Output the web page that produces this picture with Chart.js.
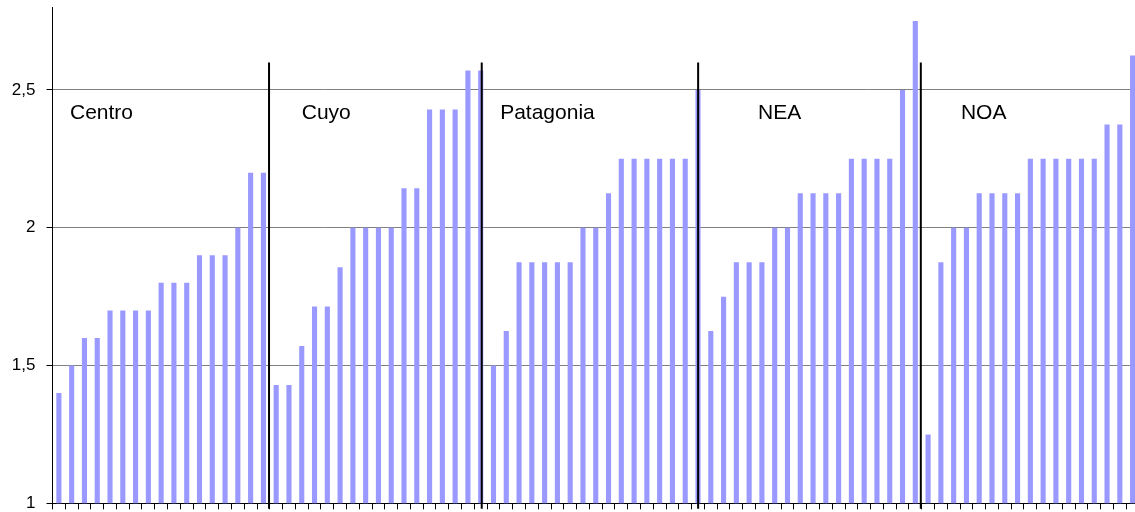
<!DOCTYPE html>
<html>
<head>
<meta charset="utf-8">
<script src="https://cdn.jsdelivr.net/npm/chart.js@4/dist/chart.umd.min.js"></script>
<style>
  html, body { margin: 0; padding: 0; background: #fff; overflow: hidden; width: 1135px; height: 512px; }
  #wrap { position: absolute; left: 0; top: 0; width: 1139px; height: 512px; }
</style>
</head>
<body>
<div id="wrap"><canvas id="c" width="1139" height="512" style="width:1139px;height:512px"></canvas></div>
<script>
// ---- data ----
const regions = ['Centro', 'Cuyo', 'Patagonia', 'NEA', 'NOA'];
const centro    = [1.4, 1.5, 1.6, 1.6, 1.7, 1.7, 1.7, 1.7, 1.8, 1.8, 1.8, 1.9, 1.9, 1.9, 2.0, 2.2, 2.2];
const cuyo      = [1.429, 1.429, 1.571, 1.714, 1.714, 1.857, 2.0, 2.0, 2.0, 2.0, 2.143, 2.143, 2.429, 2.429, 2.429, 2.571, 2.571];
const patagonia = [1.5, 1.625, 1.875, 1.875, 1.875, 1.875, 1.875, 2.0, 2.0, 2.125, 2.25, 2.25, 2.25, 2.25, 2.25, 2.25, 2.5];
const nea       = [1.625, 1.75, 1.875, 1.875, 1.875, 2.0, 2.0, 2.125, 2.125, 2.125, 2.125, 2.25, 2.25, 2.25, 2.25, 2.5, 2.75];
const noa       = [1.25, 1.875, 2.0, 2.0, 2.125, 2.125, 2.125, 2.125, 2.25, 2.25, 2.25, 2.25, 2.25, 2.25, 2.375, 2.375, 2.625];
const yTicks = [1, 1.5, 2, 2.5];
const yMin = 1, yMax = 2.8;
// region separators (x in bar-index units) and their value range
const separatorAt = [16.44, 33.08, 50.01, 67.43];
const separatorFrom = 0.98, separatorTop = 2.6;
// region label anchors (x in bar-index units, y in value units)
const labelAt = [0.87, 19.0, 34.52, 54.7, 70.57];
const labelValue = 2.416;

// ---- build ----
const series = [centro, cuyo, patagonia, nea, noa];
const values = [].concat(...series);
const labels = [];
series.forEach((s, r) => s.forEach((_, i) => labels.push(regions[r] + ' ' + (i + 1))));

const TARGET = { left: 52.5, top: 7.3, bottom: 503.3 };

const overlay = {
  id: 'overlay',
  afterDatasetsDraw(chart) {
    const ctx = chart.ctx;
    const xs = chart.scales.x, ys = chart.scales.y;
    ctx.save();
    // separators
    ctx.strokeStyle = '#000';
    ctx.lineWidth = 2;
    separatorAt.forEach(v => {
      const px = xs.getPixelForValue(v);
      ctx.beginPath();
      ctx.moveTo(px, ys.getPixelForValue(separatorFrom));
      ctx.lineTo(px, ys.getPixelForValue(separatorTop));
      ctx.stroke();
    });
    // region names
    ctx.fillStyle = '#000';
    ctx.font = '21px "Liberation Sans", Arial, sans-serif';
    ctx.textAlign = 'left';
    ctx.textBaseline = 'middle';
    regions.forEach((name, i) => {
      ctx.fillText(name, xs.getPixelForValue(labelAt[i]), ys.getPixelForValue(labelValue));
    });
    ctx.restore();
  }
};

const chart = new Chart(document.getElementById('c'), {
  type: 'bar',
  data: {
    labels: labels,
    datasets: [{
      data: values,
      backgroundColor: '#9999FF',
      borderWidth: 0,
      categoryPercentage: 1.0,
      barPercentage: 0.4
    }]
  },
  options: {
    responsive: false,
    animation: false,
    devicePixelRatio: 1,
    layout: { padding: { top: TARGET.top, right: 0, bottom: 0, left: 0 } },
    plugins: { legend: { display: false }, tooltip: { enabled: false } },
    scales: {
      x: {
        type: 'category',
        offset: true,
        grid: { display: true, drawOnChartArea: false, drawTicks: true, tickLength: 6, tickColor: '#000', offset: true },
        border: { display: true, color: '#000', width: 1 },
        ticks: { autoSkip: false, maxRotation: 0, callback: () => '' },
        afterFit(scale) { scale.height = 512 - TARGET.bottom; scale.paddingLeft = 0; scale.paddingRight = 0; }
      },
      y: {
        type: 'linear',
        min: yMin,
        max: yMax,
        afterBuildTicks(scale) { scale.ticks = yTicks.map(v => ({ value: v })); },
        ticks: {
          color: '#000',
          font: { family: '"Liberation Sans", Arial, sans-serif', size: 17 },
          padding: 11,
          callback: v => String(v).replace('.', ',')
        },
        grid: { color: '#808080', lineWidth: 1, tickLength: 6, tickColor: '#000', drawTicks: true },
        border: { display: true, color: '#000', width: 1 },
        afterFit(scale) { scale.width = TARGET.left; scale.paddingTop = 0; scale.paddingBottom = 0; }
      }
    }
  },
  plugins: [overlay]
});

// correct any residual layout offset so the plot area lands where the reference has it
(function adjust() {
  const ca = chart.chartArea;
  const p = chart.options.layout.padding;
  const dTop = TARGET.top - ca.top;
  const dBottom = ca.bottom - TARGET.bottom;
  if (Math.abs(dTop) > 0.2 || Math.abs(dBottom) > 0.2) {
    p.top = p.top + dTop;
    p.bottom = p.bottom + dBottom;
    chart.update();
  }
})();
</script>
</body>
</html>
